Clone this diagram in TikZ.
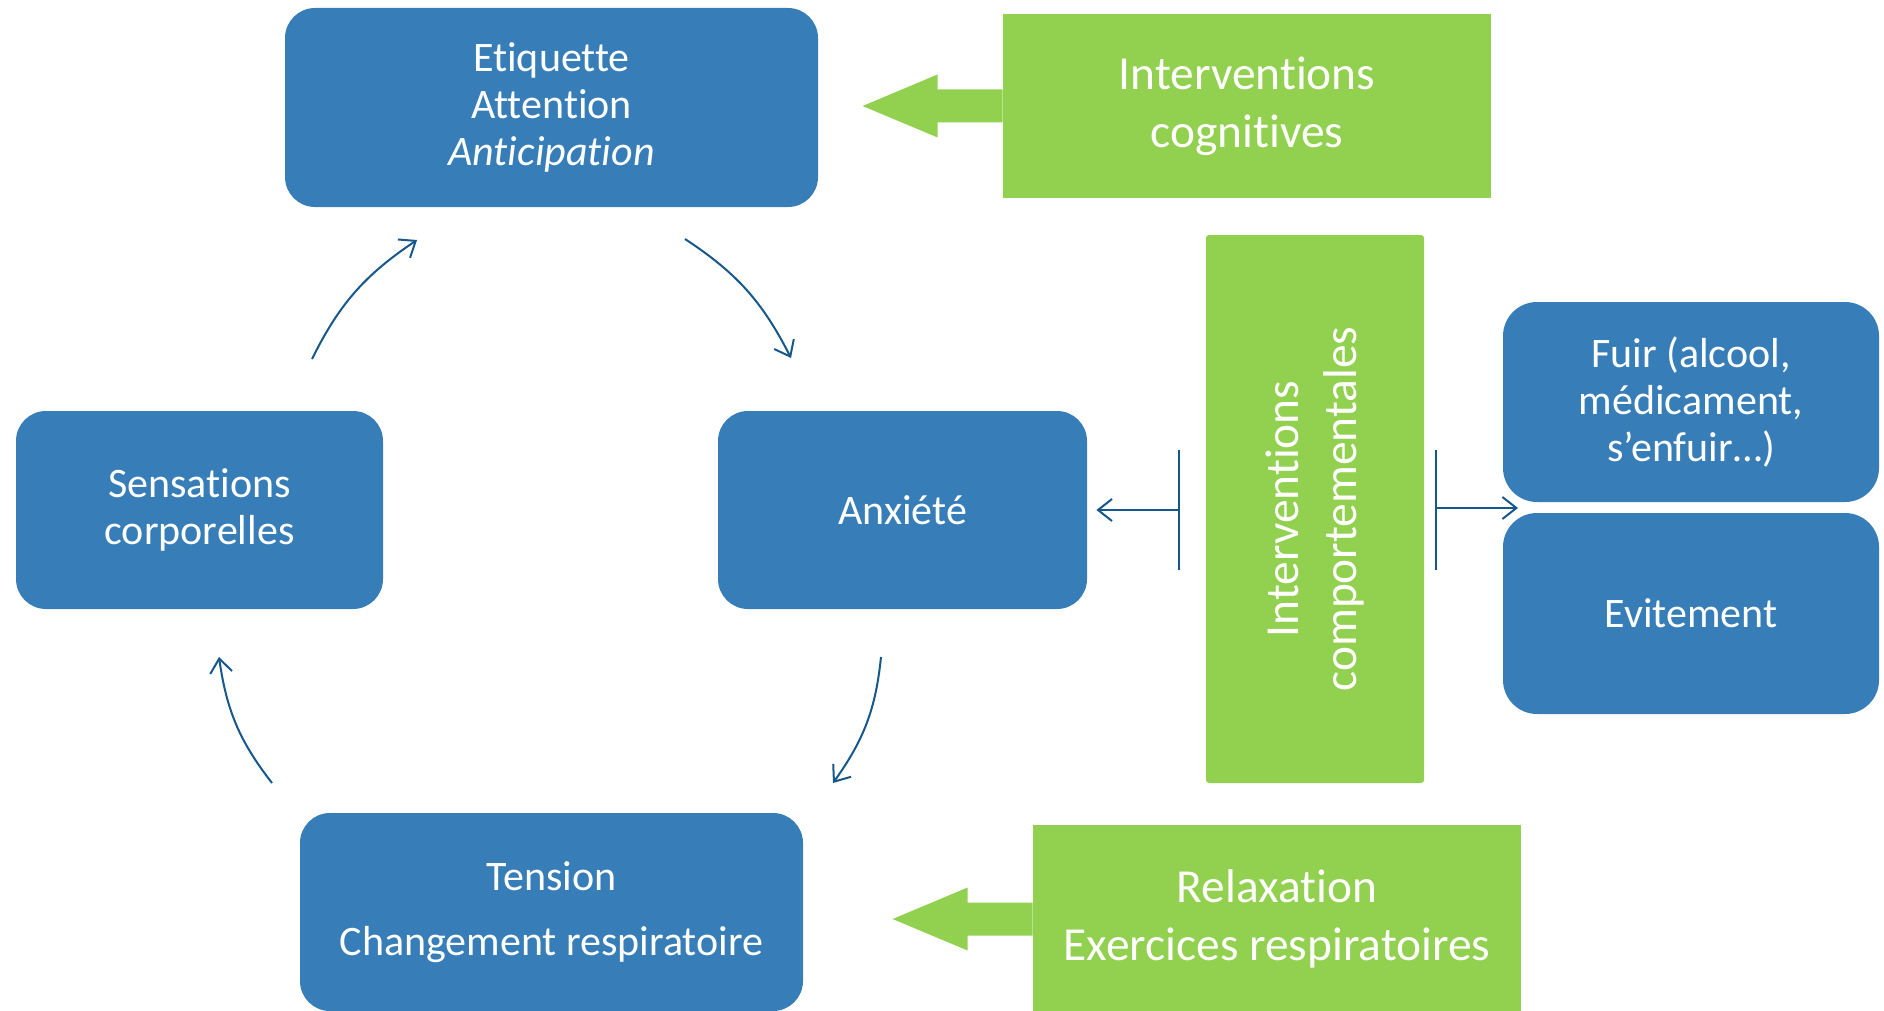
\documentclass[tikz,border=0pt]{standalone}
\usepackage{fontspec}
\setmainfont{Carlito}[Ligatures={NoCommon}]
\usetikzlibrary{shapes,arrows.meta,bending}
\definecolor{boxblue}{RGB}{55,125,184}
\definecolor{boxgreen}{RGB}{146,208,80}
\definecolor{linkblue}{RGB}{22,88,140}
\tikzstyle{block} = [rectangle, fill=boxblue, text=white, align=center,
    rounded corners=15pt, inner sep=0pt, font=\fontsize{21}{23.5}\selectfont]
\tikzstyle{greenblock} = [rectangle, fill=boxgreen, text=white, align=center,
    inner sep=0pt, font=\fontsize{23.7}{29}\selectfont]
\tikzstyle{line} = [draw=linkblue, line width=1pt, -{Straight Barb[length=7pt,width=11pt]}]
\tikzstyle{bar} = [draw=linkblue, line width=1pt]
% big green arrow pointing left from a green box
\newcommand{\greenarrow}[1]{\fill[boxgreen] (#1) ++(0,-16.5) -- ++(-65,0) -- ++(0,-15)
    -- ++(-75,31.5) -- ++(75,31.5) -- ++(0,-15) -- ++(65,0) -- cycle;}

\begin{document}
\begin{tikzpicture}[x=0.5pt, y=-0.5pt]
  \useasboundingbox (0,0) rectangle (1884,1011);
  % cycle
  \node [block, minimum width=266.5pt, minimum height=99.5pt] (etiq) at (551.5,107.5)
    {Etiquette\\Attention\\\textit{Anticipation}};
  \node [block, minimum width=184.5pt, minimum height=99pt] (anx) at (902.5,510) {Anxiété};
  \node [block, minimum width=251.5pt, minimum height=99pt] (tens) at (551.5,912)
    {Tension\\[9pt]Changement respiratoire};
  \node [block, minimum width=183.5pt, minimum height=99pt] (sens) at (199.5,510)
    {Sensations\\corporelles};
  % interventions
  \node [greenblock, minimum width=244pt, minimum height=92pt] (cog) at (1247,106)
    {Interventions\\cognitives};
  \node [greenblock, rounded corners=1.5pt, rotate=90, minimum width=274pt,
    minimum height=109pt] (comp) at (1315,509) {Interventions\\comportementales};
  \node [greenblock, minimum width=244pt, minimum height=94pt] (relax) at (1277,919)
    {Relaxation\\Exercices respiratoires};
  \node [block, rounded corners=17pt, minimum width=188pt, minimum height=100pt] (fuir)
    at (1691,402) {Fuir (alcool,\\médicament,\\s’enfuir…)};
  \node [block, rounded corners=17pt, minimum width=188pt, minimum height=100.5pt] (evit)
    at (1691,613.5) {Evitement};
  \greenarrow{cog.west}
  \greenarrow{relax.west}
  % arrows of the cycle
  \coordinate (s1) at (312,359);  \coordinate (e1) at (417,240);
  \coordinate (s2) at (685,239);  \coordinate (e2) at (791,358);
  \coordinate (s3) at (881,657);  \coordinate (e3) at (833,783);
  \coordinate (s4) at (272,783);  \coordinate (e4) at (219,657);
  \path [line] (s1) to[bend left=15] (e1);
  \path [line] (s2) to[bend left=15] (e2);
  \path [line] (s3) to[bend left=15] (e3);
  \path [line] (s4) to[bend left=15] (e4);
  % behavioural branches
  \coordinate (lt) at (1179,510);
  \coordinate (rt) at (1436,508);
  \coordinate (gap) at (1518,508);
  \path [bar] (lt) ++(0,-60) -- ++(0,120);
  \path [bar] (rt) ++(0,-58) -- ++(0,120);
  \path [line] (lt) -- ([xshift=4.5pt]anx.east);
  \path [line] (rt) -- (gap);
\end{tikzpicture}
\end{document}
